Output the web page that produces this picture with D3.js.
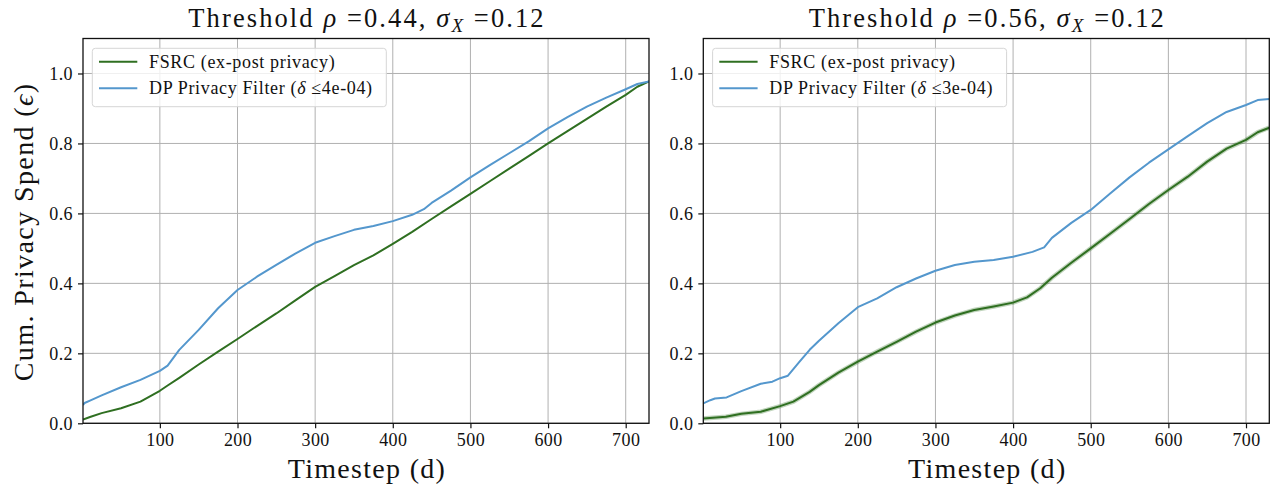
<!DOCTYPE html>
<html>
<head>
<meta charset="utf-8">
<script src="https://cdn.jsdelivr.net/npm/d3@7"></script>
<style>
  html, body { margin: 0; padding: 0; background: #fff; }
  svg { display: block; }
  text { font-family: "Liberation Serif", "DejaVu Serif", serif; fill: #111; }
</style>
</head>
<body>
<svg id="chart" width="1271" height="489"></svg>
<script>
// ---- data ----------------------------------------------------------------
const xTicks = [100, 200, 300, 400, 500, 600, 700];
const yTicks = [0.0, 0.2, 0.4, 0.6, 0.8, 1.0];

// Panel 1: threshold rho = 0.44
const leftTitleRho = "0.44";
const leftDelta = "4e-04";
const leftFsrcDays = [1, 10, 25, 50, 75, 100, 110, 125, 150, 175, 200, 225, 250, 275, 300, 325, 350, 375, 400, 425, 450, 475, 500, 525, 550, 575, 600, 625, 650, 675, 700, 715, 730];
const leftFsrc     = [0.011, 0.018, 0.029, 0.043, 0.062, 0.093, 0.108, 0.130, 0.168, 0.205, 0.241, 0.278, 0.314, 0.352, 0.390, 0.421, 0.452, 0.480, 0.513, 0.547, 0.584, 0.620, 0.656, 0.692, 0.728, 0.764, 0.800, 0.835, 0.870, 0.905, 0.939, 0.962, 0.977];
const leftDpDays   = [1, 3, 10, 25, 50, 75, 100, 110, 125, 150, 175, 200, 225, 250, 275, 300, 325, 350, 375, 400, 425, 440, 450, 475, 500, 525, 550, 575, 600, 625, 650, 675, 700, 715, 730];
const leftDp       = [0.052, 0.058, 0.065, 0.080, 0.103, 0.124, 0.150, 0.165, 0.210, 0.267, 0.329, 0.381, 0.419, 0.453, 0.486, 0.516, 0.535, 0.553, 0.564, 0.578, 0.596, 0.612, 0.630, 0.665, 0.703, 0.738, 0.772, 0.806, 0.843, 0.875, 0.905, 0.931, 0.955, 0.970, 0.977];

// Panel 2: threshold rho = 0.56
const rightTitleRho = "0.56";
const rightDelta = "3e-04";
const rightFsrcDays = [1, 30, 50, 75, 100, 117, 138, 150, 175, 200, 225, 250, 275, 300, 325, 350, 375, 400, 418, 435, 450, 475, 500, 525, 550, 575, 600, 625, 650, 675, 700, 715, 730];
const rightFsrc     = [0.014, 0.019, 0.027, 0.033, 0.049, 0.062, 0.090, 0.109, 0.145, 0.176, 0.205, 0.233, 0.262, 0.288, 0.308, 0.324, 0.334, 0.345, 0.360, 0.386, 0.416, 0.459, 0.500, 0.542, 0.584, 0.627, 0.667, 0.705, 0.748, 0.785, 0.810, 0.832, 0.845];
const rightDpDays   = [1, 10, 16, 31, 50, 75, 90, 100, 110, 125, 138, 150, 175, 200, 225, 250, 275, 300, 325, 350, 375, 400, 425, 440, 450, 475, 500, 525, 550, 575, 600, 625, 650, 675, 700, 715, 730];
const rightDp       = [0.057, 0.066, 0.071, 0.074, 0.092, 0.113, 0.119, 0.129, 0.136, 0.176, 0.210, 0.236, 0.286, 0.332, 0.357, 0.389, 0.414, 0.436, 0.4525, 0.462, 0.467, 0.476, 0.490, 0.503, 0.530, 0.573, 0.610, 0.657, 0.703, 0.745, 0.783, 0.821, 0.858, 0.890, 0.910, 0.924, 0.927];

const sigmaX = "0.12";
const fsrcLabel = "FSRC (ex-post privacy)";

// ---- styling -------------------------------------------------------------
const GREEN = "#2f6f21";
const BLUE = "#5497cd";
const GRID = "#b0b0b0";

const svg = d3.select("#chart");

const plotTop = 38.5, plotBottom = 423.3, plotWidth = 566;
const yScale = d3.scaleLinear().domain([0, 1.1]).range([plotBottom, plotTop]);

function drawPanel(left, rho, delta, fsrcDays, fsrc, dpDays, dp, showYLabel, band) {
  const x = d3.scaleLinear().domain([1, 730]).range([left, left + plotWidth]);
  const g = svg.append("g");

  // grid
  g.append("g").selectAll("line").data(xTicks).join("line")
    .attr("x1", d => x(d)).attr("x2", d => x(d))
    .attr("y1", plotTop).attr("y2", plotBottom)
    .attr("stroke", GRID).attr("stroke-width", 1);
  g.append("g").selectAll("line").data(yTicks).join("line")
    .attr("x1", left).attr("x2", left + plotWidth)
    .attr("y1", d => yScale(d)).attr("y2", d => yScale(d))
    .attr("stroke", GRID).attr("stroke-width", 1);

  // axes
  const xAxis = d3.axisBottom(x).tickValues(xTicks).tickSize(5).tickPadding(5).tickFormat(d3.format("d"));
  const yAxis = d3.axisLeft(yScale).tickValues(yTicks).tickSize(5).tickPadding(5).tickFormat(d3.format(".1f"));
  const gx = g.append("g").attr("transform", `translate(0,${plotBottom})`).call(xAxis);
  const gy = g.append("g").attr("transform", `translate(${left},0)`).call(yAxis);
  [gx, gy].forEach(a => {
    a.select(".domain").remove();
    a.selectAll(".tick line").attr("stroke", "#111").attr("stroke-width", 1.2);
    a.selectAll(".tick text").style("font-family", "'Liberation Serif', serif")
      .style("font-size", "18px").style("letter-spacing", "0.4px").attr("fill", "#222");
  });

  // series
  const line = (days) => d3.line().x((d, i) => x(days[i])).y(d => yScale(d));
  const clipId = "clip" + Math.round(left);
  svg.append("clipPath").attr("id", clipId).append("rect")
    .attr("x", left).attr("y", plotTop).attr("width", plotWidth).attr("height", plotBottom - plotTop);
  const lines = g.append("g").attr("clip-path", `url(#${clipId})`);
  if (band) {
    lines.append("path").datum(fsrc).attr("d", line(fsrcDays))
      .attr("fill", "none").attr("stroke", GREEN).attr("stroke-opacity", 0.3).attr("stroke-width", 4.5);
  }
  lines.append("path").datum(fsrc).attr("d", line(fsrcDays))
    .attr("fill", "none").attr("stroke", GREEN).attr("stroke-width", 2).attr("stroke-linejoin", "round");
  lines.append("path").datum(dp).attr("d", line(dpDays))
    .attr("fill", "none").attr("stroke", BLUE).attr("stroke-width", 2).attr("stroke-linejoin", "round");

  // frame
  g.append("rect").attr("x", left).attr("y", plotTop)
    .attr("width", plotWidth).attr("height", plotBottom - plotTop)
    .attr("fill", "none").attr("stroke", "#111").attr("stroke-width", 1.3);

  // legend
  const lg = g.append("g").attr("transform", `translate(${left + 9.3},${48.3})`);
  lg.append("rect").attr("width", 294).attr("height", 58.4).attr("rx", 3)
    .attr("fill", "#fff").attr("fill-opacity", 0.8).attr("stroke", "#d6d6d6").attr("stroke-width", 1);
  const items = [
    { color: GREEN, y: 13.4, text: [[fsrcLabel, false]] },
    { color: BLUE, y: 40, text: [["DP Privacy Filter (", false], ["δ", true], [" ≤" + delta + ")", false]] }
  ];
  items.forEach(it => {
    lg.append("line").attr("x1", 6.7).attr("x2", 45).attr("y1", it.y).attr("y2", it.y)
      .attr("stroke", it.color).attr("stroke-width", 2);
    const t = lg.append("text").attr("x", 56.7).attr("y", it.y + 6)
      .style("font-size", "18px").style("letter-spacing", "0.65px");
    it.text.forEach(([s, ital]) => t.append("tspan").text(s).style("font-style", ital ? "italic" : "normal"));
  });

  // title
  const cx = left + plotWidth / 2;
  const tt = g.append("text").attr("x", cx + 1).attr("y", 27).attr("text-anchor", "middle")
    .style("font-size", "26.5px").style("letter-spacing", "2.1px");
  tt.append("tspan").text("Threshold ");
  tt.append("tspan").text("ρ").style("font-style", "italic");
  tt.append("tspan").text(" =" + rho + ", ");
  tt.append("tspan").text("σ").style("font-style", "italic");
  tt.append("tspan").text("X").style("font-style", "italic").style("font-size", "19px").attr("dy", 5);
  tt.append("tspan").text(" =" + sigmaX).attr("dy", -5);

  // x label
  g.append("text").attr("x", cx + 1).attr("y", 478).attr("text-anchor", "middle")
    .style("font-size", "28px").style("letter-spacing", "1.3px").text("Timestep (d)");

  if (showYLabel) {
    const yl = g.append("text").attr("transform", `translate(33,${(plotTop + plotBottom) / 2 + 1}) rotate(-90)`)
      .attr("text-anchor", "middle").style("font-size", "28px").style("letter-spacing", "1.4px");
    yl.append("tspan").text("Cum. Privacy Spend (");
    yl.append("tspan").text("ϵ").style("font-style", "italic");
    yl.append("tspan").text(")");
  }
}

drawPanel(83, leftTitleRho, leftDelta, leftFsrcDays, leftFsrc, leftDpDays, leftDp, true, false);
drawPanel(703.3, rightTitleRho, rightDelta, rightFsrcDays, rightFsrc, rightDpDays, rightDp, false, true);
</script>
</body>
</html>
